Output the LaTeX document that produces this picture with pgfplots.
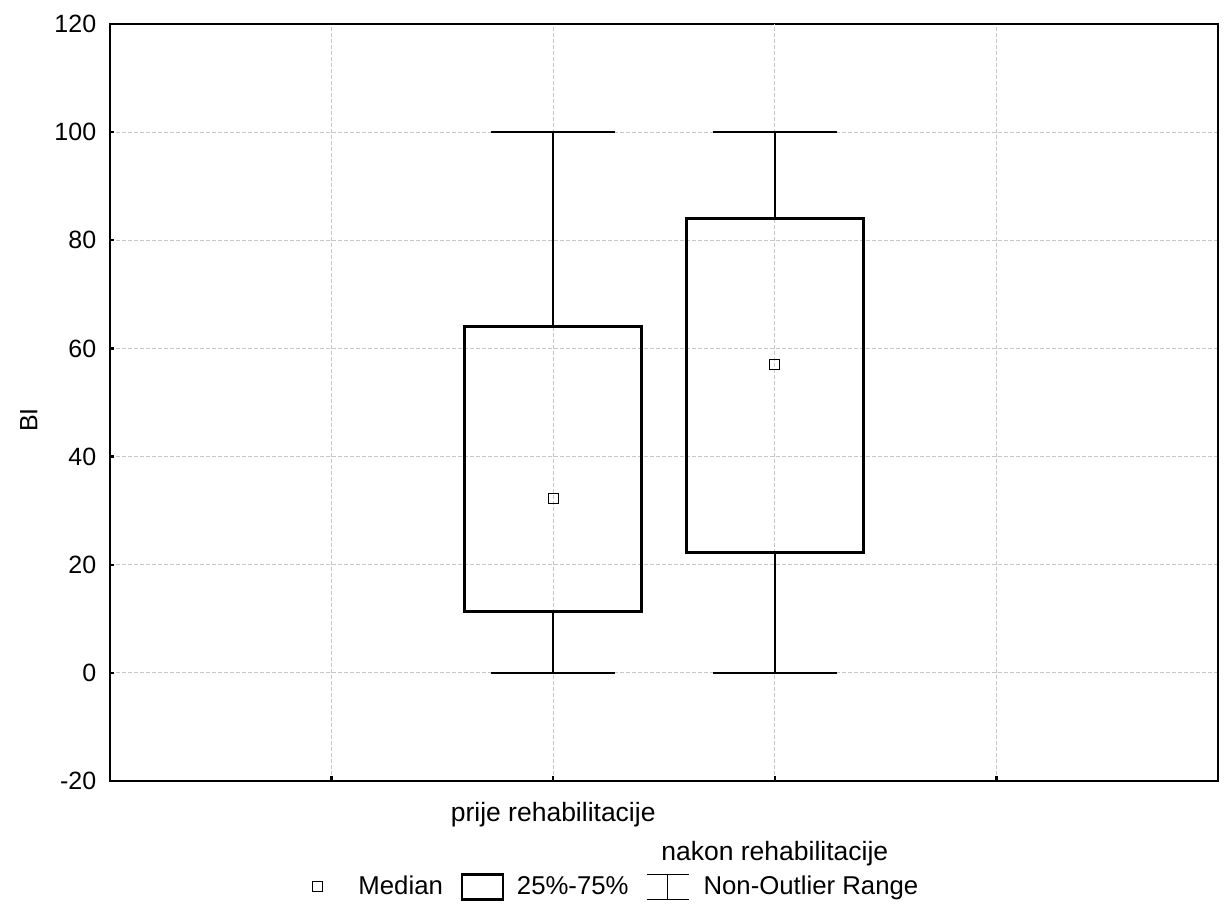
\documentclass[border=0pt]{standalone}
\usepackage{fontspec}
\setmainfont{Liberation Sans}
\usepackage{pgfplots}
\pgfplotsset{compat=1.18}
\usepgfplotslibrary{statistics}

\begin{document}
\begin{tikzpicture}
\begin{axis}[
    name=ax,
    scale only axis,
    width=443.2pt, height=302.8pt,
    xmin=0, xmax=5,
    ymin=-20, ymax=120,
    ytick={-20,0,...,120},
    xtick={1,2,4},
    xticklabels={,prije rehabilitacije,},
    extra x ticks={3},
    extra x tick labels={nakon rehabilitacije},
    extra x tick style={tick label style={yshift=-15.6pt}},
    grid=major,
    major grid style={dash pattern=on 1.6pt off 0.8pt, gray!45, line width=0.35pt},
    axis line style={line width=0.9pt},
    tick style={black, line width=0.9pt},
    tick align=inside,
    major tick length=1.8pt,
    xtick pos=bottom, ytick pos=left,
    /pgf/number format/assume math mode=true,
    y tick label style={font=\fontsize{10}{12}\selectfont, xshift=-2pt},
    x tick label style={font=\fontsize{10.6}{12}\selectfont, yshift=-5pt},
    ylabel={BI},
    ylabel style={font=\fontsize{10}{12}\selectfont, at={(ticklabel cs:0.5)}, xshift=-7pt},
    legend style={at={(0.1823,-42.4pt)}, anchor=west, draw=none, inner sep=0pt, outer sep=0pt,
        font=\fontsize{10.3}{12}\selectfont, legend columns=3, column sep=0pt,
        nodes={inner sep=0pt}},
    boxplot/draw direction=y,
    boxplot/draw/median/.code={},
    boxplot/box extend=0.8,
    boxplot/whisker extend=0.557,
    boxplot/every box/.style={line width=1.2pt},
    boxplot/every whisker/.style={line width=0.85pt},
]
\addplot[black, boxplot prepared={
    draw position=2,
    lower whisker=0, lower quartile=11.3,
    median=32.3,
    upper quartile=64, upper whisker=100}, forget plot] coordinates {};
\addplot[black, boxplot prepared={
    draw position=3,
    lower whisker=0, lower quartile=22.2,
    median=57.1,
    upper quartile=84, upper whisker=100}, forget plot] coordinates {};
\addplot[only marks, mark=square, mark size=2pt, black, line width=0.4pt,
    legend image code/.code={
      \draw[black, line width=0.4pt] (0pt,-2pt) rectangle (4pt,2pt);
      \path[draw=none] (0pt,0pt) -- (18.4pt,0pt);}]
    coordinates {(2,32.3) (3,57.1)};
\addlegendentry{Median}
\addlegendimage{legend image code/.code={
    \path[draw=none] (0pt,0pt) -- (29.6pt,0pt);
    \draw[black, line width=1pt] (7.6pt,-5pt) rectangle (24pt,5pt);}}
\addlegendentry{25\%-75\%}
\addlegendimage{legend image code/.code={
    \path[draw=none] (0pt,0pt) -- (30pt,0pt);
    \draw[black, line width=0.7pt] (7.2pt,5pt) -- (24pt,5pt);
    \draw[black, line width=0.7pt] (15.6pt,5pt) -- (15.6pt,-5pt);
    \draw[black, line width=0.7pt] (7.2pt,-5pt) -- (24pt,-5pt);}}
\addlegendentry{Non-Outlier Range}
\end{axis}
\path ([xshift=-44pt,yshift=-51.2pt]ax.south west) rectangle ([xshift=3.2pt,yshift=9.6pt]ax.north east);
\end{tikzpicture}
\end{document}
